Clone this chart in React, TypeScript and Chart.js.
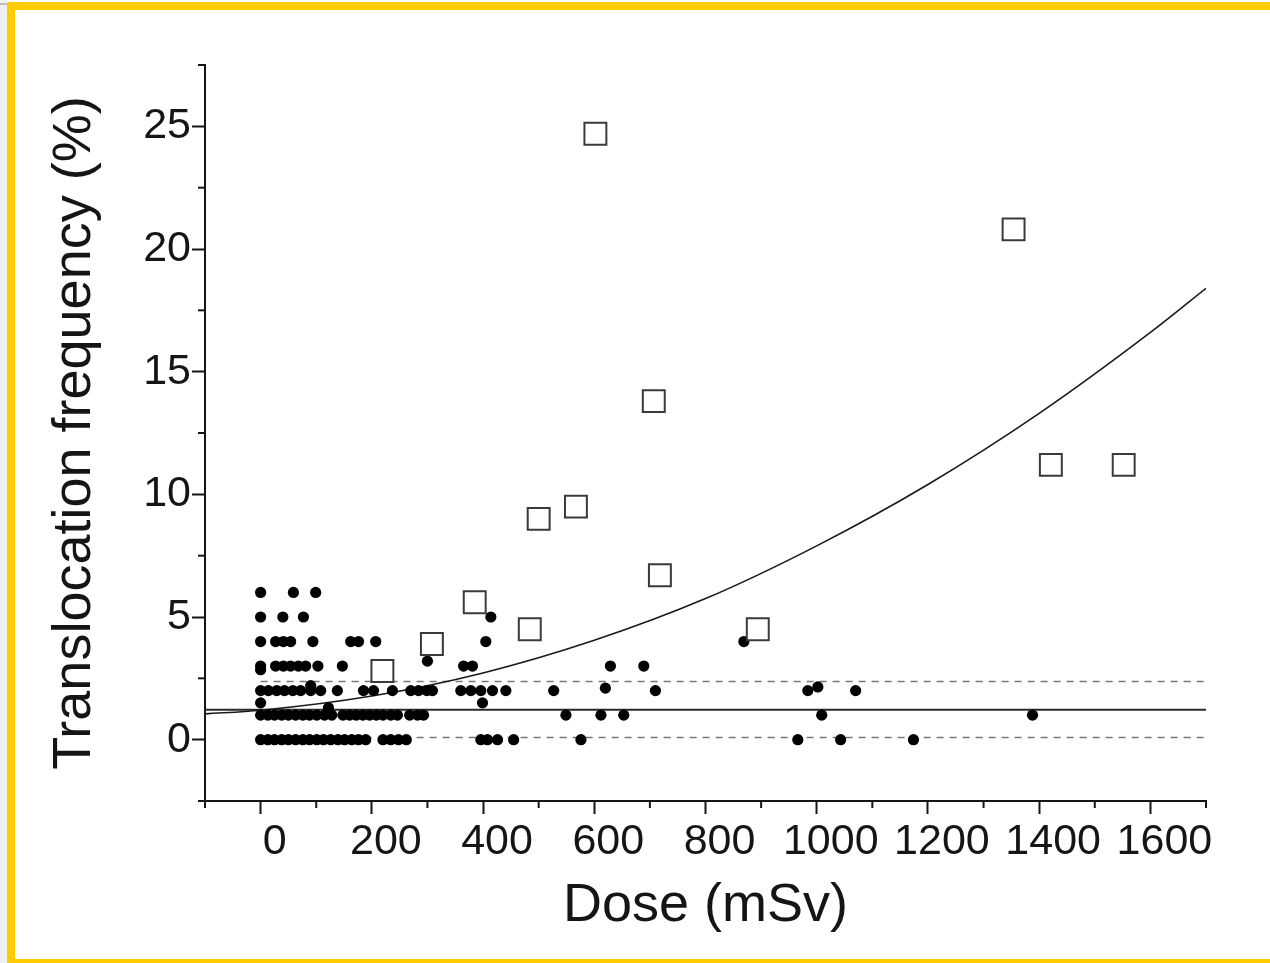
import { useEffect, useRef } from 'react';
import { Chart, registerables } from 'chart.js';

Chart.register(...registerables);

// ---- Data ----
// Open squares
const squareDose = [602, 1354, 707, 1421, 1552, 500, 567, 718, 385, 484, 894, 308, 219];
const squareFreq = [24.7, 20.8, 13.8, 11.2, 11.2, 9.0, 9.5, 6.7, 5.6, 4.5, 4.5, 3.9, 2.8];

// Filled dots, grouped by frequency level
const dotDose6 = [0, 59, 99];
const dotDose5 = [0, 40, 77, 414];
const dotDose4 = [0, 27, 41, 54, 94, 162, 176, 207, 405, 869];
const dotDose3 = [0, 27, 41, 54, 68, 81, 103, 147, 365, 381, 629, 689];
const dotDose2 = [0, 14, 29, 43, 58, 72, 90, 108, 138, 185, 203, 237, 270, 284, 299, 309, 360, 378, 396, 417, 441, 527, 710, 984, 1070];
const dotDose1 = [0, 13, 25, 38, 50, 63, 76, 88, 101, 115, 128, 148, 160, 172, 184, 196, 208, 220, 234, 246, 268, 282, 293, 549, 612, 653, 1009, 1388];
const dotDose0 = [0, 13, 25, 38, 50, 63, 76, 88, 101, 113, 126, 139, 151, 164, 176, 189, 220, 234, 248, 262, 396, 408, 426, 455, 576, 966, 1043, 1174];
// Dots off the integer levels
const extraDose = [0, 300, 0, 399, 122, 620, 1002, 90];
const extraFreq = [2.85, 3.2, 1.5, 1.5, 1.3, 2.1, 2.15, 2.2];

// Fitted dose-response curve
const fitDose = [-100, 0, 200, 400, 600, 800, 1000, 1200, 1400, 1600, 1700];
const fitFreq = [1.05, 1.2, 1.78, 2.72, 4.05, 5.75, 7.9, 10.4, 13.3, 16.6, 18.4];

// Horizontal reference lines
const baselineDose = [-100, 1700];
const baselineFreq = [1.22, 1.22];
const bandDose = [0, 1700];
const bandUpper = [2.37, 2.37];
const bandLower = [0.09, 0.09];

// Axes
const xMin = -100;
const xMax = 1700;
const xMajor = [0, 200, 400, 600, 800, 1000, 1200, 1400, 1600];
const xMinor = [-100, 100, 300, 500, 700, 900, 1100, 1300, 1500, 1700];
const yMin = -2.5;
const yMax = 27.5;
const yMajor = [0, 5, 10, 15, 20, 25];
const yMinor = [-2.5, 2.5, 7.5, 12.5, 17.5, 22.5, 27.5];

const FONT = '"Liberation Sans", Arial, sans-serif';
const INK = '#151515';

const levels: [number[], number][] = [
  [dotDose6, 6], [dotDose5, 5], [dotDose4, 4], [dotDose3, 3],
  [dotDose2, 2], [dotDose1, 1], [dotDose0, 0],
];

const minorTickPlugin = {
  id: 'minorTicks',
  afterDraw(chart: any) {
    const { ctx, scales } = chart;
    const x = scales.x;
    const y = scales.y;
    ctx.save();
    ctx.strokeStyle = INK;
    ctx.lineWidth = 2;
    xMinor.forEach((v) => {
      const px = x.getPixelForValue(v);
      ctx.beginPath();
      ctx.moveTo(px, y.bottom);
      ctx.lineTo(px, y.bottom + 7);
      ctx.stroke();
    });
    yMinor.forEach((v) => {
      const py = y.getPixelForValue(v);
      ctx.beginPath();
      ctx.moveTo(x.left, py);
      ctx.lineTo(x.left - 7, py);
      ctx.stroke();
    });
    ctx.restore();
  },
};

function ChartView() {
  const ref = useRef<HTMLCanvasElement | null>(null);

  useEffect(() => {
    if (!ref.current) return;
    const dots: { x: number; y: number }[] = [];
    levels.forEach(([doses, f]) => doses.forEach((d) => dots.push({ x: d, y: f })));
    extraDose.forEach((d, i) => dots.push({ x: d, y: extraFreq[i] }));

    const chart = new Chart(ref.current, {
      type: 'scatter',
      data: {
        datasets: [
          {
            label: 'squares',
            data: squareDose.map((d, i) => ({ x: d, y: squareFreq[i] })),
            pointStyle: 'rect',
            pointRadius: 15.5,
            pointBackgroundColor: '#ffffff',
            pointBorderColor: '#3a3a3a',
            pointBorderWidth: 2,
          },
          {
            label: 'dots',
            data: dots,
            pointStyle: 'circle',
            pointRadius: 5.6,
            pointBackgroundColor: '#000000',
            pointBorderColor: '#000000',
            pointBorderWidth: 0,
          },
          {
            label: 'fit',
            data: fitDose.map((d, i) => ({ x: d, y: fitFreq[i] })),
            showLine: true,
            pointRadius: 0,
            borderColor: '#1a1a1a',
            borderWidth: 1.6,
            cubicInterpolationMode: 'monotone',
          },
          {
            label: 'baseline',
            data: baselineDose.map((d, i) => ({ x: d, y: baselineFreq[i] })),
            showLine: true,
            pointRadius: 0,
            borderColor: '#2a2a2a',
            borderWidth: 1.8,
          },
          {
            label: 'upper',
            data: bandDose.map((d, i) => ({ x: d, y: bandUpper[i] })),
            showLine: true,
            pointRadius: 0,
            borderColor: '#777777',
            borderWidth: 1.5,
            borderDash: [7, 6],
          },
          {
            label: 'lower',
            data: bandDose.map((d, i) => ({ x: d, y: bandLower[i] })),
            showLine: true,
            pointRadius: 0,
            borderColor: '#777777',
            borderWidth: 1.5,
            borderDash: [7, 6],
          },
        ],
      },
      options: {
        animation: false,
        responsive: false,
        layout: { padding: { left: 0, top: 65, right: 64, bottom: 0 } },
        plugins: {
          legend: { display: false },
          tooltip: { enabled: false },
        },
        scales: {
          x: {
            type: 'linear',
            min: xMin,
            max: xMax,
            afterBuildTicks: (scale: any) => {
              scale.ticks = xMajor.map((v) => ({ value: v }));
            },
            afterFit: (scale: any) => {
              scale.height = 162;
            },
            border: { display: true, color: INK, width: 2 },
            grid: {
              drawOnChartArea: false,
              drawTicks: true,
              tickLength: 13,
              tickWidth: 2,
              tickColor: INK,
            },
            ticks: {
              autoSkip: false,
              maxRotation: 0,
              padding: 2,
              labelOffset: 14,
              color: INK,
              font: { family: FONT, size: 43 },
              callback: (v: any) => String(v),
            },
            title: {
              display: true,
              text: 'Dose (mSv)',
              color: INK,
              font: { family: FONT, size: 54 },
              padding: { top: 0, bottom: 24 },
            },
          },
          y: {
            type: 'linear',
            min: yMin,
            max: yMax,
            afterBuildTicks: (scale: any) => {
              scale.ticks = yMajor.map((v) => ({ value: v }));
            },
            afterFit: (scale: any) => {
              scale.width = 205;
            },
            border: { display: true, color: INK, width: 2 },
            grid: {
              drawOnChartArea: false,
              drawTicks: true,
              tickLength: 13,
              tickWidth: 2,
              tickColor: INK,
            },
            ticks: {
              autoSkip: false,
              padding: 1,
              color: INK,
              font: { family: FONT, size: 43 },
              callback: (v: any) => String(v),
            },
            title: {
              display: true,
              text: 'Translocation frequency (%)',
              color: INK,
              font: { family: FONT, size: 54 },
              padding: { top: 43, bottom: 0 },
            },
          },
        },
      },
      plugins: [minorTickPlugin],
    } as any);

    return () => chart.destroy();
  }, []);

  return (
    <canvas
      ref={ref}
      width={1270}
      height={963}
      style={{ position: 'absolute', left: 0, top: 0, width: 1270, height: 963 }}
    />
  );
}

export default function App() {
  const yellow = '#ffcc00';
  return (
    <div style={{ position: 'fixed', left: 0, top: 0, width: 1270, height: 963, background: '#ffffff', overflow: 'hidden' }}>
      <ChartView />
      <div style={{ position: 'absolute', left: 0, top: 0, width: 7, height: 963, background: '#f0f0f0' }} />
      <div style={{ position: 'absolute', left: 0, top: 3, width: 7, height: 2, background: '#bdbdbd' }} />
      <div style={{ position: 'absolute', left: 7, top: 2, width: 1263, height: 8, background: yellow }} />
      <div style={{ position: 'absolute', left: 7, top: 2, width: 8, height: 961, background: yellow }} />
      <div style={{ position: 'absolute', left: 7, top: 959, width: 1263, height: 4, background: yellow }} />
    </div>
  );
}
